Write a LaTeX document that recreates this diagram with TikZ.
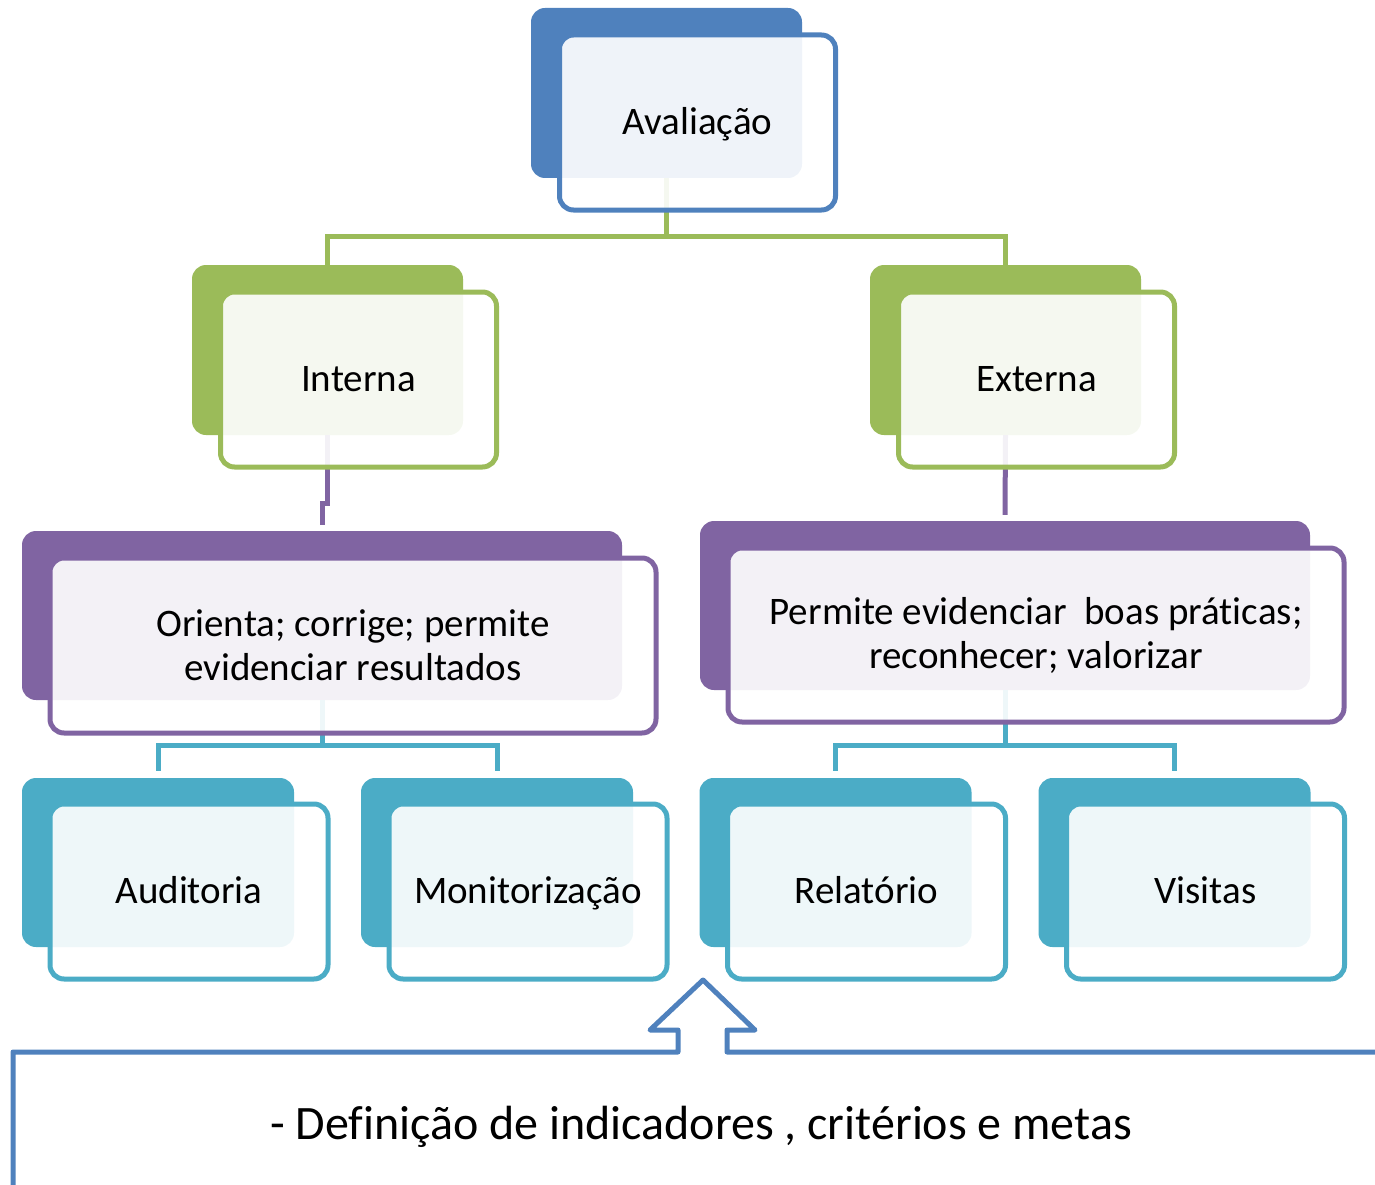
\documentclass[tikz,border=0pt]{standalone}
\usepackage{fontspec}
\setmainfont[Ligatures=NoCommon]{Carlito}

\begin{document}
\begin{tikzpicture}[x=1pt, y=-1pt,
  every node/.style={font=\fontsize{39}{44}\selectfont},
  tab/.style={fill=#1, rounded corners=14pt, minimum width=271pt, minimum height=170pt, inner sep=0pt},
  card/.style={draw=#1, line width=5pt, fill=white, fill opacity=0.91, text opacity=1,
    rounded corners=14pt, minimum width=276pt, minimum height=175pt, inner sep=0pt, align=center},
  oneline/.style={text height=31pt, text depth=7pt},
  link/.style={line width=5pt}]
  % Colors
  \definecolor{avalblue}{HTML}{4F81BD}
  \definecolor{levgreen}{HTML}{9BBB59}
  \definecolor{levpurple}{HTML}{8064A2}
  \definecolor{levteal}{HTML}{4BACC6}

  \useasboundingbox (0,0) rectangle (1375,1185);
  \clip (0,0) rectangle (1375,1185);

  % Back tabs
  \node[tab=avalblue] (avalT) at (666.5,93) {};
  \node[tab=levgreen] (intT) at (327.5,350) {};
  \node[tab=levgreen] (extT) at (1005.5,350) {};
  \node[tab=levpurple, minimum width=600pt, minimum height=169pt] (oriT) at (322,615.5) {};
  \node[tab=levpurple, minimum width=610pt, minimum height=169pt] (perT) at (1005,605.5) {};
  \foreach \nm/\x in {aud/158, mon/497, rel/835.5, vis/1174.5} {
    \node[tab=levteal, minimum width=272pt, minimum height=169pt] (\nm T) at (\x,862.5) {};
  }

  % Connectors
  \draw[link, levgreen] (avalT.south) -- ++(0,58) -| (intT.north);
  \draw[link, levgreen] (avalT.south) -- ++(0,58) -| (extT.north);
  \draw[link, levpurple] (intT.south) -- ++(0,68) -| ([yshift=6pt]oriT.north);
  \draw[link, levpurple] (extT.south) -- ([yshift=6pt]perT.north);
  \draw[link, levteal] (oriT.south) -- ++(0,45) -| ([yshift=7pt]audT.north);
  \draw[link, levteal] (oriT.south) -- ++(0,45) -| ([yshift=7pt]monT.north);
  \draw[link, levteal] (perT.south) -- ++(0,55) -| ([yshift=7pt]relT.north);
  \draw[link, levteal] (perT.south) -- ++(0,55) -| ([yshift=7pt]visT.north);

  % Front cards
  \node[card=avalblue, oneline] (aval) at ([shift={(31,29.5)}]avalT.center) {Avaliação};
  \node[card=levgreen, oneline] (int) at ([shift={(31,29.5)}]intT.center) {Interna};
  \node[card=levgreen, oneline] (ext) at ([shift={(31,29.5)}]extT.center) {Externa};
  \node[card=levpurple, minimum width=606pt] (ori) at ([shift={(31,30)}]oriT.center)
    {Orienta; corrige; permite\\evidenciar resultados};
  \node[card=levpurple, minimum width=616pt, minimum height=174pt] (per) at ([shift={(31,29.5)}]perT.center)
    {Permite evidenciar~ boas práticas;\\reconhecer; valorizar};
  \foreach \nm/\txt in {aud/Auditoria, mon/Monitorização, rel/Relatório, vis/Visitas} {
    \node[card=levteal, oneline, minimum width=278pt] (\nm) at ([shift={(31,29)}]\nm T.center) {\txt};
  }

  % Goals box with arrow
  \draw[avalblue, line width=5pt, line join=round]
    (1380,1052) -- (727,1052) -- (727,1030) -- (755,1030) -- (703,980)
    -- (650,1030) -- (678,1030) -- (678,1052) -- (13,1052) -- (13,1190);
  \node[font=\fontsize{48}{50}\selectfont, anchor=base] (goals) at (701,1139)
    {- Definição de indicadores , critérios e metas};
\end{tikzpicture}
\end{document}
